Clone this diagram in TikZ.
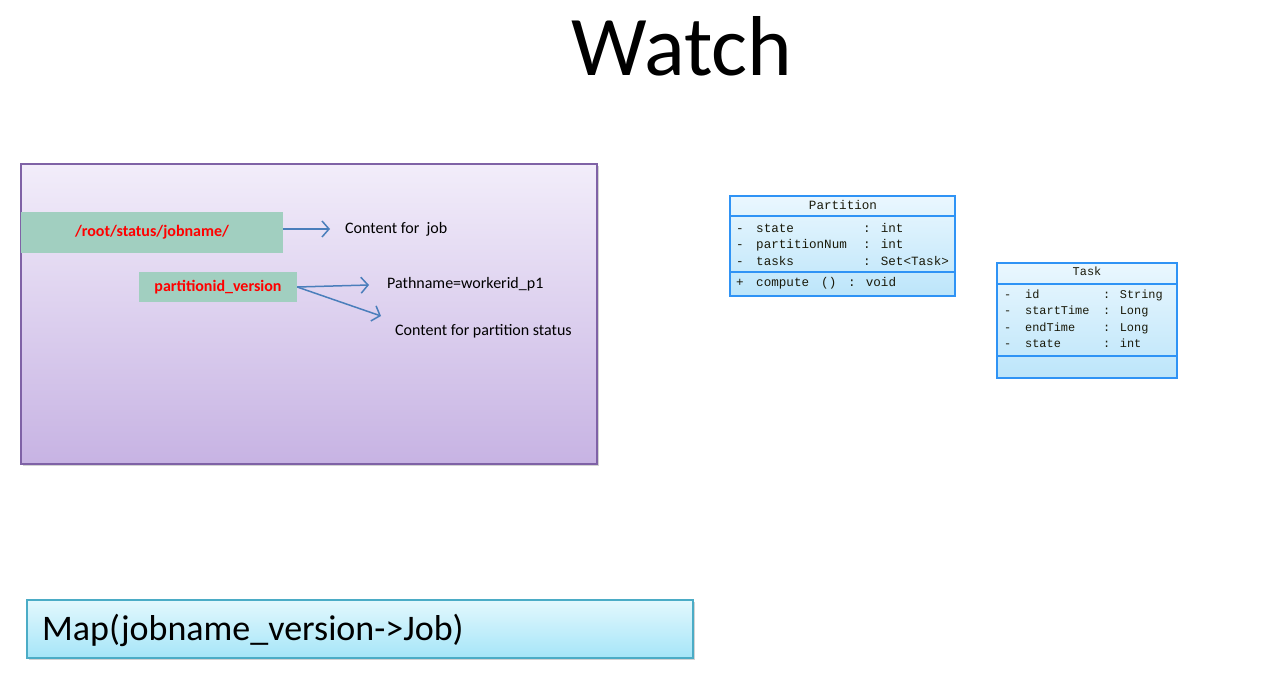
\documentclass[tikz,border=0pt]{standalone}
\usepackage{fontspec}
\setmainfont{Carlito}
\newfontfamily\umlfont{Liberation Mono}
\usetikzlibrary{arrows.meta,shadows}

\definecolor{arrowblue}{HTML}{4A7EBB}
\definecolor{keygreen}{HTML}{A1CFC0}
\definecolor{panelborder}{HTML}{7F62A6}
\definecolor{paneltop}{HTML}{F2EDFA}
\definecolor{panelbottom}{HTML}{C7B3E3}
\definecolor{umlborder}{HTML}{2F93F5}
\definecolor{umltop}{HTML}{EAF7FE}
\definecolor{umlbottom}{HTML}{BCE5FA}
\definecolor{umltext}{HTML}{1A1A0A}
\definecolor{mapborder}{HTML}{4BACC6}
\definecolor{maptop}{HTML}{E3F8FD}
\definecolor{mapbottom}{HTML}{A5E5F8}

\tikzset{
  keybox/.style={fill=keygreen, draw=none, inner sep=0pt, font=\fontsize{16}{18}\selectfont\bfseries, text=red},
  note/.style={inner sep=0pt, anchor=west, font=\fontsize{16}{19}\selectfont},
  link/.style={draw=arrowblue, line width=1.5pt, -{Straight Barb[length=7pt,width=16pt,line width=1.5pt]}},
  umlbox/.style={draw=umlborder, line width=1.3pt, top color=umltop, bottom color=umlbottom},
  umlrow/.style={inner sep=0pt, anchor=base west, text=umltext, font=\umlfont\fontsize{12.6}{15}\selectfont},
  umlrowsmall/.style={inner sep=0pt, anchor=base west, text=umltext, font=\umlfont\fontsize{11.9}{15}\selectfont},
}

\begin{document}
\begin{tikzpicture}[x=1pt,y=-1pt]
\useasboundingbox (0,0) rectangle (1267,696);

% title
\node[inner sep=0pt, font=\fontsize{85}{90}\selectfont] (title) at (682,46) {Watch};

% status tree panel
\node[draw=panelborder, line width=1.5pt, top color=paneltop, bottom color=panelbottom,
      drop shadow={shadow xshift=2pt, shadow yshift=-2pt, opacity=0.35},
      minimum width=576pt, minimum height=300pt, inner sep=0pt] (panel) at (309,314) {};

\node[keybox, minimum width=262pt, minimum height=41pt] (jobkey) at (152,232.5) {/root/status/jobname/};
\node[keybox, minimum width=158pt, minimum height=30pt] (partkey) at (218,287) {partitionid\_version};

\coordinate (jobtip) at (330,229);
\coordinate (pathtip) at (369,285);
\coordinate (statustip) at (381,316);

\draw[link] (jobkey.east |- jobtip) -- (jobtip);
\draw[link] (partkey.east) -- (pathtip);
\draw[link] (partkey.east) -- (statustip);

\node[note] (jobcontent) at (345,229) {Content for\ \ job};
\node[note] (pathname) at (387,284) {Pathname=workerid\_p1};
\node[note] (partcontent) at (395,331) {Content for partition status};

% Partition class
\node[umlbox, minimum width=225pt, minimum height=100pt, inner sep=0pt] (partition) at (842.5,246) {};
\draw[umlborder, line width=1.3pt] (partition.west |- 0,216) -- (partition.east |- 0,216);
\draw[umlborder, line width=1.3pt] (partition.west |- 0,272) -- (partition.east |- 0,272);
\node[inner sep=0pt, text=umltext, font=\umlfont\fontsize{12.6}{15}\selectfont] (partname) at (843,205) {Partition};
\node[umlrow] (p1) at (736,232) {\makebox[20pt][l]{-}\makebox[107pt][l]{state}: int};
\node[umlrow] (p2) at (736,248.5) {\makebox[20pt][l]{-}\makebox[107pt][l]{partitionNum}: int};
\node[umlrow] (p3) at (736,265) {\makebox[20pt][l]{-}\makebox[107pt][l]{tasks}: Set<Task>};
\node[umlrow] (p4) at (736,286) {\makebox[20pt][l]{+}\makebox[65pt][l]{compute}\makebox[27pt][l]{()}: void};

% Task class
\node[umlbox, minimum width=180pt, minimum height=115pt, inner sep=0pt] (task) at (1087,320.5) {};
\draw[umlborder, line width=1.3pt] (task.west |- 0,284) -- (task.east |- 0,284);
\draw[umlborder, line width=1.3pt] (task.west |- 0,356) -- (task.east |- 0,356);
\node[inner sep=0pt, text=umltext, font=\umlfont\fontsize{11.9}{15}\selectfont] (taskname) at (1087,271) {Task};
\node[umlrowsmall] (t1) at (1004,298) {\makebox[21pt][l]{-}\makebox[78pt][l]{id}: String};
\node[umlrowsmall] (t2) at (1004,314.5) {\makebox[21pt][l]{-}\makebox[78pt][l]{startTime}: Long};
\node[umlrowsmall] (t3) at (1004,331) {\makebox[21pt][l]{-}\makebox[78pt][l]{endTime}: Long};
\node[umlrowsmall] (t4) at (1004,347.5) {\makebox[21pt][l]{-}\makebox[78pt][l]{state}: int};

% job map
\node[draw=mapborder, line width=1.3pt, top color=maptop, bottom color=mapbottom,
      drop shadow={shadow xshift=2pt, shadow yshift=-2pt, opacity=0.35},
      minimum width=666pt, minimum height=58pt, inner sep=0pt] (map) at (360,629) {};
\node[inner sep=0pt, anchor=west, font=\fontsize{36}{40}\selectfont] (maptext) at (42,630) {Map(jobname\_version->Job)};
\end{tikzpicture}
\end{document}
